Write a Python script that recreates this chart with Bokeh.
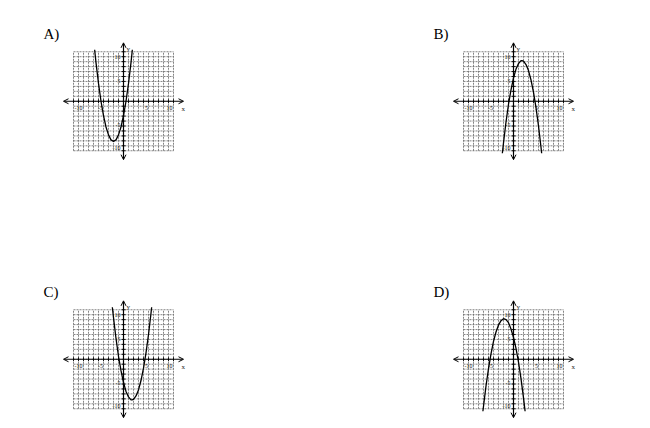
from bokeh.plotting import figure
from bokeh.models import Range1d, Arrow, OpenHead, Label, Spacer, ColumnDataSource
from bokeh.layouts import row, column
from bokeh.embed import file_html
from bokeh.resources import INLINE
from bokeh.core.properties import value

# ---------------- data ----------------
PANEL_LABELS = ["A)", "B)", "C)", "D)"]
GRID_VALUES = list(range(-10, 11))
X_TICK_LABELS = [-10, -5, 5, 10]
Y_TICK_LABELS = [10, 5, -5, -10]

A_X = [-5.77, -5.5, -5.0, -4.5, -4.0, -3.5, -3.0, -2.5, -2.0, -1.5, -1.0, -0.5, 0.0, 0.5, 1.0, 1.5, 1.77]
A_Y = [10.4, 7.8, 3.6, 0.0, -2.9, -5.2, -6.8, -7.8, -8.1, -7.8, -6.8, -5.2, -2.9, 0.0, 3.6, 7.8, 10.4]

B_X = [-2.23, -2.0, -1.5, -1.0, -0.5, 0.0, 0.5, 1.0, 1.5, 1.7, 2.0, 2.5, 3.0, 3.5, 4.0, 4.5, 5.0, 5.5, 5.63]
B_Y = [-10.5, -8.4, -4.2, -0.6, 2.3, 4.7, 6.5, 7.6, 8.2, 8.2, 8.1, 7.4, 6.2, 4.3, 1.8, -1.3, -5.0, -9.3, -10.5]

C_X = [-2.23, -2.0, -1.5, -1.0, -0.5, 0.0, 0.5, 1.0, 1.5, 1.7, 2.0, 2.5, 3.0, 3.5, 4.0, 4.5, 5.0, 5.5, 5.63]
C_Y = [10.5, 8.4, 4.2, 0.6, -2.3, -4.7, -6.5, -7.6, -8.2, -8.2, -8.1, -7.4, -6.2, -4.3, -1.8, 1.3, 5.0, 9.3, 10.5]

D_X = [-6.12, -5.5, -5.0, -4.5, -4.0, -3.5, -3.0, -2.5, -2.0, -1.5, -1.0, -0.5, 0.0, 0.5, 1.0, 1.5, 2.0, 2.32]
D_Y = [-10.5, -5.4, -1.9, 1.1, 3.6, 5.5, 6.9, 7.8, 8.2, 8.0, 7.4, 6.1, 4.4, 2.2, -0.6, -3.9, -7.8, -10.5]

CURVES = [(A_X, A_Y), (B_X, B_Y), (C_X, C_Y), (D_X, D_Y)]

# ---------------- style ----------------
W, H = 160, 140
X_RANGE = (-17.6, 14.4)
Y_RANGE = (-12.17, 16.11)
AXIS_EXT_X = 12.0
AXIS_EXT_Y = 11.8
TICK_HALF = 0.4
SERIF = "Liberation Serif"
X_LABEL_NUDGE = [5, 2, -2, -4]
Y_LABEL_NUDGE = [5, 4, -1, -3]


def panel(label, xs, ys):
    p = figure(width=W, height=H,
               x_range=Range1d(*X_RANGE), y_range=Range1d(*Y_RANGE),
               x_axis_location=None, y_axis_location=None,
               output_backend="svg", toolbar_location=None,
               min_border=0, outline_line_color=None,
               background_fill_color="white", border_fill_color="white")
    p.grid.visible = False

    lo, hi = GRID_VALUES[0], GRID_VALUES[-1]
    # grid
    p.segment(x0=GRID_VALUES, y0=[lo] * len(GRID_VALUES),
              x1=GRID_VALUES, y1=[hi] * len(GRID_VALUES),
              line_color="#666666", line_width=0.8, line_dash="2 1")
    p.segment(x0=[lo] * len(GRID_VALUES), y0=GRID_VALUES,
              x1=[hi] * len(GRID_VALUES), y1=GRID_VALUES,
              line_color="#666666", line_width=0.8, line_dash="2 1")

    # axes with arrows
    head = dict(size=5, line_width=1, line_color="black")
    p.add_layout(Arrow(x_start=-AXIS_EXT_X, y_start=0, x_end=AXIS_EXT_X, y_end=0,
                       start=OpenHead(**head), end=OpenHead(**head),
                       line_color="black", line_width=1.2))
    p.add_layout(Arrow(x_start=0, y_start=-AXIS_EXT_Y, x_end=0, y_end=AXIS_EXT_Y,
                       start=OpenHead(**head), end=OpenHead(**head),
                       line_color="black", line_width=1.2))

    ticks = [v for v in GRID_VALUES if v != 0]
    p.segment(x0=ticks, y0=[-TICK_HALF] * len(ticks), x1=ticks, y1=[TICK_HALF] * len(ticks),
              line_color="black", line_width=0.9)
    p.segment(x0=[-TICK_HALF] * len(ticks), y0=ticks, x1=[TICK_HALF] * len(ticks), y1=ticks,
              line_color="black", line_width=0.9)

    # tick labels
    xl = ColumnDataSource(dict(x=X_TICK_LABELS, y=[0] * len(X_TICK_LABELS),
                               t=[str(v) for v in X_TICK_LABELS], dx=X_LABEL_NUDGE))
    p.text(x="x", y="y", text="t", x_offset="dx", y_offset=5, source=xl,
           text_font=value(SERIF), text_font_size="6px", text_color="#222222",
           text_align="center", text_baseline="top")
    yl = ColumnDataSource(dict(x=[0] * len(Y_TICK_LABELS), y=Y_TICK_LABELS,
                               t=[str(v) for v in Y_TICK_LABELS], dy=Y_LABEL_NUDGE))
    p.text(x="x", y="y", text="t", x_offset=-3, y_offset="dy", source=yl,
           text_font=value(SERIF), text_font_size="6px", text_color="#222222",
           text_align="right", text_baseline="middle")

    p.add_layout(Label(x=AXIS_EXT_X, y=0, text="x", x_offset=-2, y_offset=-4,
                       text_font=SERIF, text_font_size="7px", text_color="#222222",
                       text_baseline="top", text_align="left"))
    p.add_layout(Label(x=0, y=AXIS_EXT_Y, text="y", x_offset=3, y_offset=-2,
                       text_font=SERIF, text_font_size="7px", text_color="#222222",
                       text_baseline="top", text_align="left"))

    # curve
    p.line(xs, ys, line_color="black", line_width=1.3)

    # panel letter
    p.add_layout(Label(x=8, y=H - 4, x_units="screen", y_units="screen", text=label,
                       text_font=SERIF, text_font_size="15px", text_color="black",
                       text_baseline="top", text_align="left"))
    return p


figs = [panel(lab, xs, ys) for lab, (xs, ys) in zip(PANEL_LABELS, CURVES)]

layout = column(
    Spacer(width=10, height=21),
    row(Spacer(width=35, height=H), figs[0], Spacer(width=230, height=H), figs[1]),
    Spacer(width=10, height=118),
    row(Spacer(width=35, height=H), figs[2], Spacer(width=230, height=H), figs[3]),
)

open("out.html", "w").write(file_html(layout, INLINE))
